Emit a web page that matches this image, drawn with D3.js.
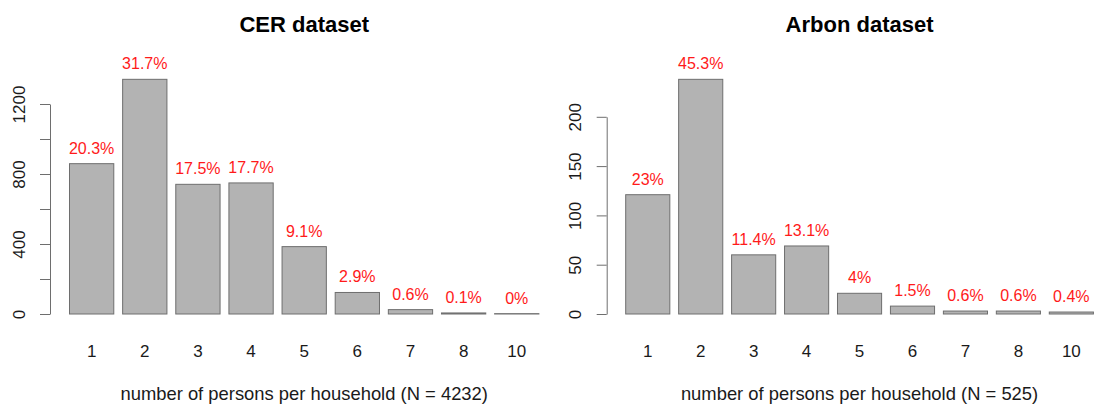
<!DOCTYPE html>
<html>
<head>
<meta charset="utf-8">
<script src="https://cdn.jsdelivr.net/npm/d3@7"></script>
<style>
  body { margin: 0; background: #fff; }
  svg { display: block; font-family: "Liberation Sans", Arial, Helvetica, sans-serif; }
</style>
</head>
<body>
<svg id="chart" width="1094" height="406"></svg>
<script>
// ---- data ----
const categories = ["1", "2", "3", "4", "5", "6", "7", "8", "10"];
const cerCounts = [859, 1341, 741, 749, 385, 123, 25, 6, 2];
const cerPct = ["20.3%", "31.7%", "17.5%", "17.7%", "9.1%", "2.9%", "0.6%", "0.1%", "0%"];
const arbonCounts = [121, 238, 60, 69, 21, 8, 3, 3, 2];
const arbonPct = ["23%", "45.3%", "11.4%", "13.1%", "4%", "1.5%", "0.6%", "0.6%", "0.4%"];
const cerTicks = [0, 200, 400, 600, 800, 1000, 1200];
const cerTickLabels = [0, 400, 800, 1200];
const arbonTicks = [0, 50, 100, 150, 200];
const arbonTickLabels = [0, 50, 100, 150, 200];
const titles = ["CER dataset", "Arbon dataset"];
const xTitles = ["number of persons per household (N = 4232)", "number of persons per household (N = 525)"];

const svg = d3.select("#chart");
const FONT = '"Liberation Sans", Arial, Helvetica, sans-serif';

function panel(cfg) {
  const g = svg.append("g");
  const x = d3.scaleBand().domain(categories).range(cfg.xRange).paddingInner(1/6).paddingOuter(0);
  const y = d3.scaleLinear().domain(cfg.yDomain).range([314, cfg.yTop]);

  // y axis
  const ya = g.append("g").attr("transform", `translate(${cfg.axisX},0)`)
    .call(d3.axisLeft(y).tickValues(cfg.ticks).tickSize(10).tickSizeOuter(0)
      .tickFormat(d => cfg.tickLabels.includes(d) ? String(d) : ""));
  ya.select(".domain").attr("stroke", "#6e6e6e");
  ya.selectAll(".tick line").attr("stroke", "#6e6e6e");
  ya.selectAll(".tick text")
    .attr("x", null).attr("dy", null)
    .attr("transform", "translate(-25.5,0) rotate(-90)")
    .attr("text-anchor", "middle")
    .attr("fill", "#1a1a1a")
    .style("font-size", "17px")
    .style("font-family", FONT);

  // bars
  g.selectAll("rect.bar").data(cfg.counts).join("rect")
    .attr("class", "bar")
    .attr("x", (d, i) => x(categories[i]))
    .attr("width", x.bandwidth())
    .attr("y", d => y(d))
    .attr("height", d => y(0) - y(d))
    .attr("fill", "#b3b3b3")
    .attr("stroke", "#6e6e6e")
    .attr("stroke-width", 1);

  // percentage labels
  g.selectAll("text.pct").data(cfg.counts).join("text")
    .attr("class", "pct")
    .attr("x", (d, i) => x(categories[i]) + x.bandwidth() / 2)
    .attr("y", d => y(d) - 10)
    .attr("text-anchor", "middle")
    .attr("fill", "#ff1a1a")
    .style("font-size", "16px")
    .text((d, i) => cfg.pct[i]);

  // x axis labels
  const xa = g.append("g").attr("transform", "translate(0,344)")
    .call(d3.axisBottom(x).tickSize(0).tickPadding(0));
  xa.select(".domain").remove();
  xa.selectAll(".tick text")
    .attr("y", 12.6).attr("dy", null)
    .attr("fill", "#1a1a1a")
    .style("font-size", "17px")
    .style("font-family", FONT);

  const cx = (cfg.xRange[0] + cfg.xRange[1]) / 2;
  g.append("text")
    .attr("x", cx).attr("y", 400)
    .attr("text-anchor", "middle")
    .attr("fill", "#1a1a1a")
    .style("font-size", "18.4px")
    .text(cfg.xTitle);

  g.append("text")
    .attr("x", cx).attr("y", 31.5)
    .attr("text-anchor", "middle")
    .attr("fill", "#000")
    .style("font-size", "22px")
    .style("font-weight", "bold")
    .text(cfg.title);
}

panel({ xRange: [69.5, 538.9], axisX: 50, yDomain: [0, 1200], yTop: 104,
        ticks: cerTicks, tickLabels: cerTickLabels, counts: cerCounts, pct: cerPct,
        title: titles[0], xTitle: xTitles[0] });
panel({ xRange: [625.7, 1093.4], axisX: 606.7, yDomain: [0, 200], yTop: 116.8,
        ticks: arbonTicks, tickLabels: arbonTickLabels, counts: arbonCounts, pct: arbonPct,
        title: titles[1], xTitle: xTitles[1] });
</script>
</body>
</html>
